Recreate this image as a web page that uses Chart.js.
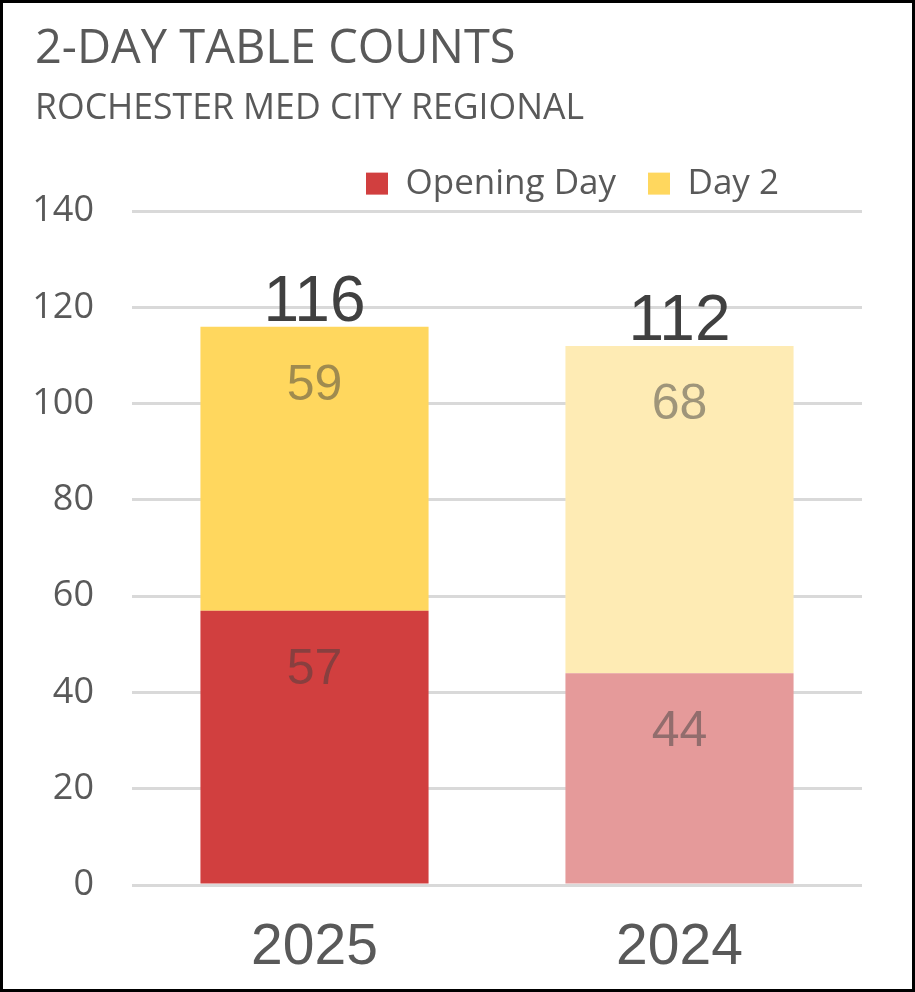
<!DOCTYPE html>
<html>
<head>
<meta charset="utf-8">
<script src="https://cdn.jsdelivr.net/npm/chart.js@4.4.1/dist/chart.umd.min.js"></script>
<style>
  html, body { margin: 0; padding: 0; background: #fff; }
  #frame { width: 915px; height: 992px; box-sizing: border-box; border: 3px solid #000; position: relative; }
</style>
</head>
<body>
<div id="frame"><canvas id="tables"></canvas></div>
<script>
const years = ['2025', '2024'];
const openingDay = [57, 44];
const dayTwo = [59, 68];
const yTicks = [0, 20, 40, 60, 80, 100, 120, 140];

const redShades = ['#D13F3F', '#E59A9A'];
const yellowShades = ['#FFD75E', '#FEEBB4'];

// inner segment values + stacked totals above each bar
const valueLabels = {
  id: 'valueLabels',
  afterLayout(chart) {
    // pull the legend in from the right edge
    chart.legend.left -= 51;
    chart.legend.right -= 51;
  },
  afterDatasetsDraw(chart) {
    const ctx = chart.ctx;
    ctx.save();
    ctx.textAlign = 'center';
    ctx.textBaseline = 'alphabetic';
    ctx.font = '50px "Liberation Sans", Arial, sans-serif';
    ctx.fillStyle = 'rgba(64,64,64,0.5)';
    chart.data.datasets.forEach(function(ds, i) {
      chart.getDatasetMeta(i).data.forEach(function(bar, j) {
        ctx.fillText(ds.data[j], bar.x, bar.y + 73);
      });
    });
    const top = chart.getDatasetMeta(chart.data.datasets.length - 1).data;
    ctx.font = '64px "Liberation Sans", Arial, sans-serif';
    ctx.fillStyle = '#404040';
    top.forEach(function(bar, j) {
      const total = openingDay[j] + dayTwo[j];
      ctx.fillText(total, bar.x, bar.y - 6);
    });
    ctx.restore();
  }
};

const ctx = document.getElementById('tables');
new Chart(ctx, {
  type: 'bar',
  data: {
    labels: years,
    datasets: [
      { label: 'Opening Day', data: openingDay, backgroundColor: redShades },
      { label: 'Day 2', data: dayTwo, backgroundColor: yellowShades }
    ]
  },
  options: {
    responsive: true,
    maintainAspectRatio: false,
    animation: false,
    categoryPercentage: 1,
    barPercentage: 0.625,
    layout: { padding: { left: 32, right: 50, top: 0, bottom: 0 } },
    plugins: {
      title: {
        display: true,
        text: '2-DAY TABLE COUNTS',
        align: 'start',
        color: '#595959',
        font: { family: '"Open Sans"', size: 47, weight: 'normal' },
        padding: { top: 18, bottom: 0 }
      },
      subtitle: {
        display: true,
        text: 'ROCHESTER MED CITY REGIONAL',
        align: 'start',
        color: '#595959',
        font: { family: '"Open Sans"', size: 35.6, weight: 'normal' },
        padding: { top: 10, bottom: 4 }
      },
      legend: {
        position: 'top',
        align: 'end',
        labels: {
          color: '#595959',
          font: { family: '"Open Sans"', size: 35 },
          boxWidth: 22,
          boxHeight: 22,
          padding: 32,
          generateLabels(chart) {
            return chart.data.datasets.map(function(ds, i) {
              return {
                text: ds.label,
                fillStyle: ds.backgroundColor[0],
                strokeStyle: ds.backgroundColor[0],
                lineWidth: 0,
                fontColor: '#595959',
                datasetIndex: i
              };
            });
          }
        }
      },
      tooltip: { enabled: false }
    },
    scales: {
      x: {
        stacked: true,
        grid: { display: false },
        border: { display: false },
        afterFit(scale) {
          scale.paddingLeft = 0;
          scale.paddingRight = 0;
          scale.height = 104;
        },
        ticks: {
          color: '#595959',
          font: { family: '"Liberation Sans", Arial', size: 57 },
          padding: 21
        }
      },
      y: {
        stacked: true,
        min: 0,
        max: 140,
        z: 1,
        afterBuildTicks(scale) {
          scale.ticks = yTicks.map(function(v) { return { value: v }; });
        },
        afterFit(scale) {
          scale.width = 97;
        },
        border: { display: false },
        grid: { color: 'rgba(0,0,0,0.15)', lineWidth: 3, drawTicks: false },
        ticks: {
          color: '#595959',
          font: { family: '"Open Sans"', size: 36 },
          padding: 38
        }
      }
    }
  },
  plugins: [valueLabels]
});
</script>
</body>
</html>
